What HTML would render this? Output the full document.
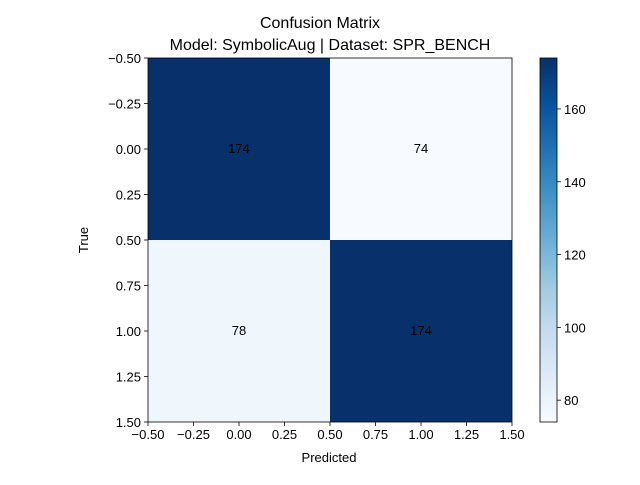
<!DOCTYPE html>
<html><head><meta charset="utf-8"><style>
body{margin:0;background:#fff}
svg text{font-family:"Liberation Sans","DejaVu Sans",sans-serif;fill:#000}
</style></head><body>
<svg id="chart" width="640" height="480" xmlns="http://www.w3.org/2000/svg">
<defs><linearGradient id="blues" x1="0" y1="1" x2="0" y2="0">
<stop offset="0" stop-color="#f7fbff"/><stop offset="0.125" stop-color="#deebf7"/><stop offset="0.25" stop-color="#c6dbef"/><stop offset="0.375" stop-color="#9ecae1"/><stop offset="0.5" stop-color="#6baed6"/><stop offset="0.625" stop-color="#4292c6"/><stop offset="0.75" stop-color="#2171b5"/><stop offset="0.875" stop-color="#08519c"/><stop offset="1" stop-color="#08306b"/>
</linearGradient></defs>
<text x="320" y="28" font-size="16" text-anchor="middle">Confusion Matrix</text>
<text x="330" y="50" font-size="16" text-anchor="middle">Model: SymbolicAug | Dataset: SPR_BENCH</text>
<g id="cells"></g>
<g id="axes"></g>
<rect x="540" y="58" width="17" height="364" fill="url(#blues)" stroke="#000" stroke-width="0.8"/>
<g id="cbticks"></g>
<text x="329" y="462" font-size="13" text-anchor="middle">Predicted</text>
<text x="88" y="240" font-size="13" text-anchor="middle" transform="rotate(-90 88 240)">True</text>
</svg>
<script>
const matrix=[[174,74],[78,174]];
const xTicks=["−0.50","−0.25","0.00","0.25","0.50","0.75","1.00","1.25","1.50"];
const tickVals=[-0.5,-0.25,0,0.25,0.5,0.75,1,1.25,1.5];
const cbTicks=[80,100,120,140,160];
const vmin=74,vmax=174;
const NS="http://www.w3.org/2000/svg";
const L=148,R=512,T=58,B=422;
const xs=v=>L+(v+0.5)/2*(R-L), ys=v=>T+(v+0.5)/2*(B-T);
const stops=["#f7fbff","#deebf7","#c6dbef","#9ecae1","#6baed6","#4292c6","#2171b5","#08519c","#08306b"];
function hex(h){return [1,3,5].map(i=>parseInt(h.substr(i,2),16));}
function color(v){let t=(v-vmin)/(vmax-vmin);t=Math.max(0,Math.min(1,t));const p=t*8,i=Math.min(7,Math.floor(p)),f=p-i;const a=hex(stops[i]),b=hex(stops[i+1]);return "rgb("+a.map((c,k)=>Math.round(c+(b[k]-c)*f)).join(",")+")";}
function mk(tag,attrs,parent){const e=document.createElementNS(NS,tag);for(const k in attrs)e.setAttribute(k,attrs[k]);parent.appendChild(e);return e;}
const cells=document.getElementById('cells'),axes=document.getElementById('axes'),cb=document.getElementById('cbticks');
matrix.forEach((row,i)=>row.forEach((v,j)=>{
 const r=mk('rect',{x:xs(j-0.5),y:ys(i-0.5),width:xs(j+0.5)-xs(j-0.5),height:ys(i+0.5)-ys(i-0.5),fill:color(v)},cells);
 
 
 const t=mk('text',{x:xs(j),y:ys(i)+4,'font-size':13,'text-anchor':'middle'},cells);t.textContent=v;
 
 
}));
const fr=mk('rect',{x:L,y:T,width:R-L,height:B-T,fill:'none',stroke:'#000','stroke-width':0.8},axes);


tickVals.forEach((v,k)=>{
 mk('line',{x1:xs(v),x2:xs(v),y1:B,y2:B+4,stroke:'#000','stroke-width':0.8},axes);
 const tx=mk('text',{x:xs(v),y:B+17,'font-size':13,'text-anchor':'middle'},axes);tx.textContent=xTicks[k];
 
 
 mk('line',{x1:L-4,x2:L,y1:ys(v),y2:ys(v),stroke:'#000','stroke-width':0.8},axes);
 const ty=mk('text',{x:L-7,y:ys(v)+5,'font-size':13,'text-anchor':'end'},axes);ty.textContent=xTicks[k];
 
 
});
cbTicks.forEach(v=>{
 const y=B-(v-vmin)/(vmax-vmin)*(B-T);
 mk('line',{x1:557,x2:561,y1:y,y2:y,stroke:'#000','stroke-width':0.8},cb);
 const t=mk('text',{x:564,y:y+5,'font-size':13},cb);t.textContent=v;
 
 
});
</script>
</body></html>
